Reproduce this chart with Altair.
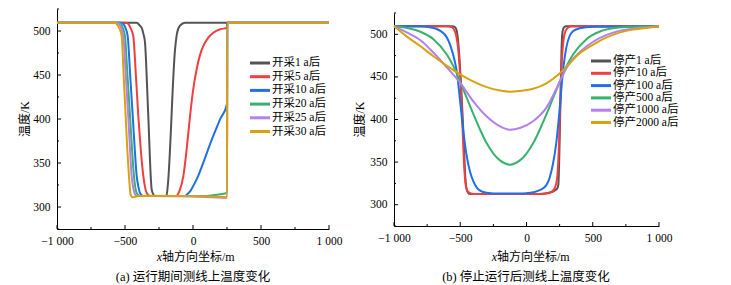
import altair as alt
import pandas as pd

FONT = "Liberation Serif, Noto Sans CJK SC"

X_TICKS = [-1000, -500, 0, 500, 1000]
X_MINOR = [-750, -250, 250, 750]
Y_TICKS = [300, 350, 400, 450, 500]
Y_MINOR = [275, 325, 375, 425, 475, 525]
X_DOMAIN = [-1000, 1000]
Y_DOMAIN = [275, 525]
COLORS = ["#545454", "#f23e3e", "#1f6fe8", "#37b26c", "#b47ff0", "#d8a30f"]

Y_TITLE = "温度/K"
X_TITLE_I = "x"
X_TITLE_REST = "轴方向坐标/m"

# ---------- (a) during operation ----------
A_NAMES = ["开采1 a后", "开采5 a后", "开采10 a后", "开采20 a后", "开采25 a后", "开采30 a后"]
A_CAPTION = "(a) 运行期间测线上温度变化"
a1_x = [-1000, -414, -390, -377, -365, -353, -330, -304, -292, -280, -195, -185, -132, -118, -96, -59, 252, 1000]
a1_T = [509.4, 509.4, 506, 503.5, 497, 487, 408, 320, 314.4, 312.5, 312.5, 325, 479, 497, 506, 509.4, 509.4, 509.4]
a5_x = [-1000, -490, -476, -458, -439, -420, -402, -384, -365, -352, -340, -316, -125, -100, -71, -45, -22, 0, 27, 50, 76, 110, 149, 200, 250, 252, 1000]
a5_T = [509.4, 509.4, 508, 503, 494, 450, 403, 365, 335, 322, 316, 312.5, 312.5, 318, 335, 368, 403, 432, 456.5, 472, 483, 492, 498, 502, 503.5, 509.4, 509.4]
a10_x = [-1000, -525, -512, -495, -480, -462, -443, -428, -414, -400, -390, -365, -60, -46, -20, 2, 40, 76, 110, 149, 199, 250, 252, 1000]
a10_T = [509.4, 509.4, 508, 503, 494, 450, 403, 365, 335, 322, 316, 312.5, 312.5, 314, 318, 324, 336, 350.4, 365, 380.7, 399.6, 417, 509.4, 509.4]
a20_x = [-1000, -545, -529, -515, -500, -482, -463, -448, -434, -424, -414, -390, 80, 150, 200, 250, 252, 1000]
a20_T = [509.4, 509.4, 508, 503, 494, 450, 403, 365, 335, 322, 316, 312.5, 312.5, 313.5, 314.5, 316, 509.4, 509.4]
a25_x = [-1000, -560, -545, -527, -512, -494, -476, -463, -451, -440, -430, -414, -300, 0, 150, 250, 252, 1000]
a25_T = [509.4, 509.4, 508, 503, 494, 450, 403, 365, 335, 322, 316, 312.5, 312.5, 312, 311, 310.5, 509.4, 509.4]
a30_x = [-1000, -575, -561, -542, -524, -510, -495, -483, -471, -466, -460, -450, -439, -400, -300, -100, 100, 200, 250, 252, 1000]
a30_T = [509.4, 509.4, 508, 503, 494, 450, 403, 365, 335, 325, 315, 311.5, 311, 312.5, 312.8, 312.5, 312, 311.5, 311, 509.4, 509.4]

# ---------- (b) after shutdown ----------
B_NAMES = ["停产1 a后", "停产10 a后", "停产100 a后", "停产500 a后", "停产1000 a后", "停产2000 a后"]
B_CAPTION = "(b) 停止运行后测线上温度变化"
b1_x = [-1000, -560, -540, -528, -520, -505, -490, -475, -463, -452, -440, -425, 100, 150, 200, 230, 240, 248, 256, 264, 272, 285, 300, 1000]
b1_T = [509.4, 509.4, 508.5, 505, 498, 470, 430, 380, 335, 318, 314, 312.5, 312.5, 313.5, 315.5, 318.5, 323, 360, 420, 480, 503, 508.5, 509.4, 509.4]
b10_x = [-1000, -600, -565, -545, -530, -515, -500, -485, -472, -460, -445, -425, -400, 100, 150, 190, 215, 232, 245, 256, 268, 280, 295, 315, 345, 1000]
b10_T = [509.4, 509.4, 508.5, 505, 498, 482, 450, 400, 350, 325, 316, 313.5, 312.5, 312.5, 313, 315, 320, 332, 370, 425, 472, 494, 504, 508, 509.4, 509.4]
b100_x = [-1000, -800, -700, -650, -600, -575, -550, -525, -500, -475, -450, -425, -400, -375, -350, -300, -200, -125, -50, 0, 50, 100, 150, 175, 200, 225, 250, 275, 300, 325, 350, 400, 500, 1000]
b100_T = [509.4, 509.4, 507.5, 504, 496, 487, 474, 455, 420, 384, 356, 338, 327, 320, 316.5, 314, 313, 313, 313, 313.5, 314.5, 317, 323, 332, 348, 373, 412, 456, 484, 498, 503.5, 507, 509, 509.4]
b500_x = [-1000, -900, -800, -700, -600, -550, -500, -450, -400, -350, -300, -250, -200, -125, -50, 0, 50, 100, 150, 200, 250, 300, 350, 450, 550, 650, 750, 1000]
b500_T = [509.4, 507.5, 503, 494, 476, 462, 444, 425, 406, 388, 372, 360, 352, 347, 352, 360, 372, 388, 406, 425, 444, 462, 476, 494, 503, 507, 508.5, 509.4]
b1000_x = [-1000, -900, -800, -700, -600, -500, -400, -300, -200, -125, -50, 50, 150, 250, 300, 350, 400, 500, 600, 700, 800, 900, 1000]
b1000_T = [509.4, 502, 493, 478, 461, 443, 421, 403.5, 392, 388, 390, 398, 414, 444, 460, 471, 479, 491, 499, 504, 506.5, 508, 509.4]
b2000_x = [-1000, -900, -800, -700, -600, -500, -400, -300, -200, -125, -50, 50, 150, 250, 300, 400, 500, 600, 700, 800, 900, 1000]
b2000_T = [509.4, 497, 486, 474, 463, 453, 444.5, 438, 434, 432.6, 433.5, 436, 442.5, 454, 461.5, 477.5, 487.5, 496, 502, 505.5, 507.5, 509.4]


def build_lines(names, xs, ts):
    rows = []
    for i, (n, xl, tl) in enumerate(zip(names, xs, ts)):
        for j, (xv, tv) in enumerate(zip(xl, tl)):
            rows.append({"name": n, "s": i, "x": xv, "T": tv, "k": j})
    return pd.DataFrame(rows)


def panel(names, xs, ts, W, H, ytop, leg_x, leg_y0, leg_step, caption,
          ytitle_x, ytitle_y, xtitle_y, cap_y, xtitle_cx, cap_cx):
    df = build_lines(names, xs, ts)
    xsc = alt.Scale(domain=X_DOMAIN, nice=False, zero=False)
    ysc = alt.Scale(domain=Y_DOMAIN, nice=False, zero=False, range=[H, ytop])
    xaxis = alt.Axis(values=X_TICKS, labelFlush=False, labelPadding=6, title=None,
                     labelExpr="replace(format(datum.value, ','), ',', ' ')")
    cenc = alt.Color("name:N", scale=alt.Scale(domain=names, range=COLORS), legend=None)

    lines = alt.Chart(df).mark_line(strokeWidth=2, interpolate="monotone").encode(
        x=alt.X("x:Q", scale=xsc, axis=xaxis),
        y=alt.Y("T:Q", scale=ysc, title=None,
                axis=alt.Axis(values=Y_TICKS, labelPadding=7)),
        color=cenc,
        order="k:Q",
    )

    xt = pd.DataFrame({"v": X_TICKS})
    xm = pd.DataFrame({"v": X_MINOR})
    yt = pd.DataFrame({"v": Y_TICKS})
    ym = pd.DataFrame({"v": Y_MINOR})
    xtick = alt.Chart(xt).mark_rule(color="black", strokeWidth=1).encode(
        x=alt.X("v:Q", scale=xsc, axis=xaxis), y=alt.value(H), y2=alt.value(H - 4))
    xmin = alt.Chart(xm).mark_rule(color="black", strokeWidth=1).encode(
        x=alt.X("v:Q", scale=xsc, axis=xaxis), y=alt.value(H), y2=alt.value(H - 2))
    ytick = alt.Chart(yt).mark_rule(color="black", strokeWidth=1).encode(
        y=alt.Y("v:Q", scale=ysc, axis=None), x=alt.value(0), x2=alt.value(4))
    ymin = alt.Chart(ym).mark_rule(color="black", strokeWidth=1).encode(
        y=alt.Y("v:Q", scale=ysc, axis=None), x=alt.value(0), x2=alt.value(2))

    leg = pd.DataFrame({"name": names})
    lsc = alt.Scale(type="point", domain=names, range=[leg_y0, leg_y0 + leg_step * (len(names) - 1)], padding=0)
    leg_rule = alt.Chart(leg).mark_rule(strokeWidth=3).encode(
        x=alt.value(leg_x), x2=alt.value(leg_x + 20),
        y=alt.Y("name:N", scale=lsc, axis=None), color=cenc)
    leg_text = alt.Chart(leg).mark_text(align="left", baseline="middle", font=FONT,
                                        fontSize=11.5, color="black").encode(
        x=alt.value(leg_x + 22), y=alt.Y("name:N", scale=lsc, axis=None), text="name:N")

    ytitle = alt.Chart(pd.DataFrame({"t": [Y_TITLE]})).mark_text(
        angle=270, align="center", baseline="middle", font=FONT, fontSize=12, color="black").encode(
        x=alt.value(ytitle_x), y=alt.value(ytitle_y), text="t:N")
    xti = alt.Chart(pd.DataFrame({"t": [X_TITLE_I]})).mark_text(
        align="right", baseline="middle", font=FONT, fontSize=12, fontStyle="italic", color="black").encode(
        x=alt.value(xtitle_cx - 33), y=alt.value(xtitle_y), text="t:N")
    xtr = alt.Chart(pd.DataFrame({"t": [X_TITLE_REST]})).mark_text(
        align="left", baseline="middle", font=FONT, fontSize=12, color="black").encode(
        x=alt.value(xtitle_cx - 33), y=alt.value(xtitle_y), text="t:N")
    cap = alt.Chart(pd.DataFrame({"t": [caption]})).mark_text(
        align="center", baseline="middle", font=FONT, fontSize=12.5, color="black").encode(
        x=alt.value(cap_cx), y=alt.value(cap_y), text="t:N")

    ch = alt.layer(lines, xtick, xmin, ytick, ymin, leg_rule, leg_text, ytitle, xti, xtr, cap).resolve_scale(
        y="independent")
    return ch.properties(width=W, height=H)


# origins of both panels are at y = 8 (page); right panel plot starts 4 px lower
left = panel(A_NAMES, [a1_x, a5_x, a10_x, a20_x, a25_x, a30_x],
             [a1_T, a5_T, a10_T, a20_T, a25_T, a30_T],
             272, 220, 0, 193, 54, 13.7, A_CAPTION,
             -32, 110, 248, 268, 138, 136)
right = panel(B_NAMES, [b1_x, b10_x, b100_x, b500_x, b1000_x, b2000_x],
              [b1_T, b10_T, b100_T, b500_T, b1000_T, b2000_T],
              265, 217, 4, 197, 52, 12.3, B_CAPTION,
              -34, 110.5, 248, 268, 136, 132)

chart = alt.hconcat(left, right, spacing=12).resolve_scale(color="independent").properties(
    padding={"left": 19, "top": 8, "right": 0, "bottom": 0}
).configure_view(stroke=None).configure_axis(
    domainColor="black", domainWidth=1, labelColor="black", labelFont=FONT,
    labelFontSize=11.5, ticks=False, tickSize=0, grid=False
)

chart.save("out.html", embed_options={"renderer": "svg", "actions": False})
